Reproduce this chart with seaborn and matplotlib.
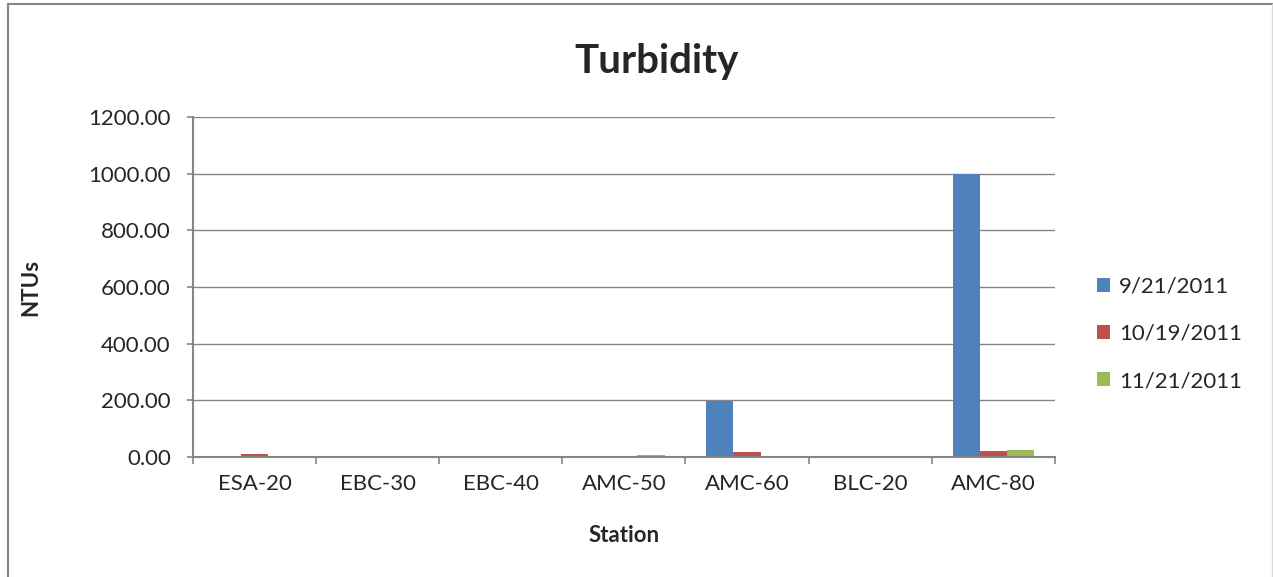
import pandas as pd
import numpy as np
import matplotlib.pyplot as plt
import seaborn as sns

# data
stations = ['ESA-20', 'EBC-30', 'EBC-40', 'AMC-50', 'AMC-60', 'BLC-20', 'AMC-80']
dates = ['9/21/2011', '10/19/2011', '11/21/2011']
ntu_sep = [5, 1, 0, 0, 198, 0, 1000]
ntu_oct = [9, 2, 0, 0, 17, 0, 20]
ntu_nov = [3, 2, 0, 8, 4, 0, 23]
colors = ['#4F81BD', '#C0504D', '#9BBB59']

df = pd.DataFrame({
    'Station': stations * 3,
    'Date': [d for d in dates for _ in stations],
    'NTUs': ntu_sep + ntu_oct + ntu_nov,
})

sns.set_style('white')
plt.rcParams['font.family'] = ['Lato', 'DejaVu Sans']
grey = '#868686'

fig = plt.figure(figsize=(12.73, 5.77), dpi=100)
ax = fig.add_axes([0.1516, 0.208, 0.677, 0.589])

sns.barplot(data=df, x='Station', y='NTUs', hue='Date', palette=colors,
            width=0.66, ax=ax, saturation=1, linewidth=0, legend=True)

ax.set_ylim(0, 1200)
ax.set_xlim(-0.5, len(stations) - 0.5)
yt = np.arange(0, 1201, 200)
ax.set_yticks(yt)
ax.set_yticklabels(['{:.2f}'.format(v) for v in yt], fontsize=16)
ax.yaxis.grid(True, color=grey, linewidth=1)
ax.set_axisbelow(True)

# ticks between the station groups
ax.set_xticks(np.arange(len(stations)))
ax.set_xticklabels(stations, fontsize=16)
ax.tick_params(axis='x', which='major', length=0, pad=12)
ax.set_xticks(np.arange(-0.5, len(stations), 1), minor=True)
ax.tick_params(axis='x', which='minor', bottom=True, length=5, color=grey, width=1.2, direction='out')
ax.tick_params(axis='y', left=True, length=4, color=grey, width=1.2, direction='out', pad=12)

for s in ['top', 'right']:
    ax.spines[s].set_visible(False)
for s in ['left', 'bottom']:
    ax.spines[s].set_color(grey)
    ax.spines[s].set_linewidth(1.5)

ax.set_xlabel('Station', fontsize=16, fontweight='bold')
ax.xaxis.set_label_coords(0.5, -0.2)
ax.set_ylabel('NTUs', fontsize=16, fontweight='bold')
ax.yaxis.set_label_coords(-0.176, 0.5)
fig.text(0.516, 0.893, 'Turbidity', fontsize=29, fontweight='bold', ha='center', va='center')

ax.legend(loc='center left', bbox_to_anchor=(1.0487, 0.362), frameon=False,
          fontsize=16, handlelength=0.6, handleheight=0.6, handletextpad=0.4,
          labelspacing=1.22, borderpad=0, borderaxespad=0)

# chart border (only left/top visible in the crop)
fig.add_artist(plt.Line2D([8 / 1273, 8 / 1273], [0, 1 - 4 / 577], transform=fig.transFigure,
                          color=grey, linewidth=1.5))
fig.add_artist(plt.Line2D([8 / 1273, 1], [1 - 4 / 577, 1 - 4 / 577], transform=fig.transFigure,
                          color=grey, linewidth=1.5))
fig.add_artist(plt.Line2D([1271.5 / 1273, 1271.5 / 1273], [0, 1 - 4 / 577], transform=fig.transFigure,
                          color='#d9d9d9', linewidth=1))

fig.savefig('out.png', dpi=100)
